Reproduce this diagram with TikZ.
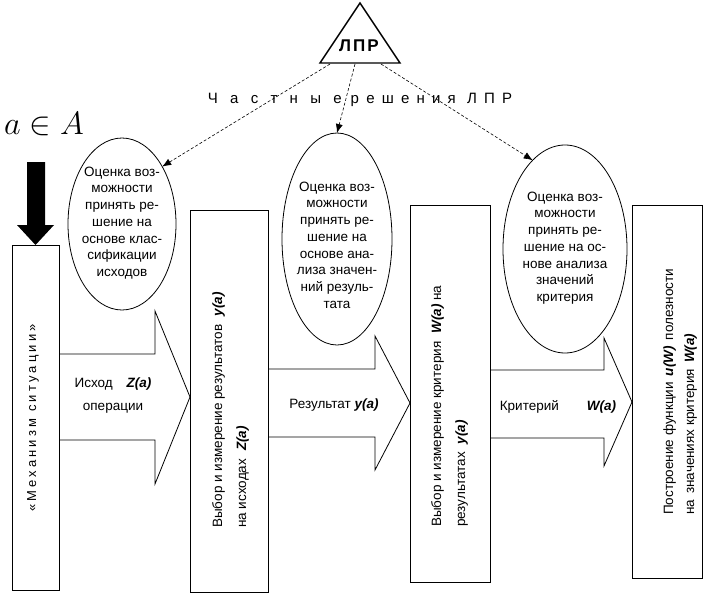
\documentclass[tikz,border=0pt]{standalone}
\usepackage{fontspec}
\setmainfont{Liberation Sans}
\usetikzlibrary{shapes.geometric,arrows.meta}

\tikzset{
  box/.style={draw, line width=0.8pt, inner sep=0pt, outer sep=0pt},
  oval/.style={draw, ellipse, line width=0.8pt, inner sep=0pt, outer sep=0pt},
  ovaltext/.style={align=center, inner sep=0pt, font=\fontsize{13.5}{16.7}\selectfont},
  boxtext/.style={rotate=90, align=left, anchor=west, inner sep=0pt, font=\fontsize{13.5}{24}\selectfont},
  flowlabel/.style={align=center, inner sep=0pt, font=\fontsize{13.5}{23}\selectfont},
  blockarrow/.style={draw, line width=0.8pt, line join=miter},
  decision/.style={draw, line width=0.6pt, dash pattern=on 3pt off 2pt,
                   -{Latex[length=9pt,width=7pt]}},
}
\newcommand{\bi}[1]{\textbf{\textit{#1}}}

\begin{document}
\begin{tikzpicture}[x=1pt,y=-1pt]
\useasboundingbox (0,0) rectangle (703,594);

% decision maker
\draw[line width=1.4pt, line join=miter] (360,3) -- (400,63) -- (320,63) -- cycle;
\node[inner sep=0pt, font=\fontsize{17}{17}\selectfont\bfseries\addfontfeature{LetterSpace=12}] (lpr) at (359,46) {ЛПР};
\coordinate (lprL) at (330,64);
\coordinate (lprM) at (355,64);
\coordinate (lprR) at (381,64);
\node[inner sep=0pt, font=\fontsize{15}{15}\selectfont] (part) at (360,100)
  {{\addfontfeature{LetterSpace=82}Частные}\hspace{9pt}{\addfontfeature{LetterSpace=48}решения ЛПР}};

% input alternative
\node[inner sep=0pt, scale=1.3, font=\fontsize{24.88}{26}\selectfont] (alt) at (44,124) {$a\in A$};

% stages
\node[box, minimum width=47pt, minimum height=345pt, anchor=north west] (r1) at (12,245) {};
\node[box, minimum width=78pt, minimum height=382pt, anchor=north west] (r2) at (190,210) {};
\node[box, minimum width=80pt, minimum height=377pt, anchor=north west] (r3) at (410,205) {};
\node[box, minimum width=70pt, minimum height=373pt, anchor=north west] (r4) at (632,205) {};

\node[rotate=90, inner sep=0pt, font=\fontsize{13}{13}\selectfont\addfontfeature{LetterSpace=24}] (r1t) at (33,418) {«Механизм ситуации»};
\node[boxtext] (r2t) at (230.5,528) {Выбор и измерение результатов\hspace{8pt}\bi{y(a)}\\на исходах\hspace{8pt}\bi{Z(a)}};
\node[boxtext] (r3t) at (449.5,527) {Выбор и измерение критерия\hspace{8pt}\bi{W(a)} на\\результатах\hspace{8pt}\bi{y(a)}};
\node[boxtext, font=\fontsize{13.5}{21}\selectfont] (r4t) at (680,515) {Построение функции\hspace{6pt}\bi{u(W)}\hspace{6pt}полезности\\на\hspace{6pt}значениях критерия\hspace{6pt}\bi{W(a)}};

% thick input arrow
\fill (27,162) -- (45,162) -- (45,225) -- (54,225) -- (r1.north) -- (17,225) -- (27,225) -- cycle;

% evaluation ovals
\node[oval, minimum width=108pt, minimum height=172pt] (e1) at (122,224) {};
\node[oval, minimum width=110pt, minimum height=212pt] (e2) at (337,239) {};
\node[oval, minimum width=124pt, minimum height=208pt] (e3) at (565,249) {};
\node[ovaltext] (e1t) at (122,223) {Оценка воз-\\можности\\принять ре-\\шение на\\основе клас-\\сификации\\исходов};
\node[ovaltext] (e2t) at (337,245) {Оценка воз-\\можности\\принять ре-\\шение на\\основе ана-\\лиза значен-\\ний резуль-\\тата};
\node[ovaltext] (e3t) at (565,248) {Оценка воз-\\можности\\принять ре-\\шение на ос-\\нове анализа\\значений\\критерия};

% partial decisions
\draw[decision] (lprL) -- (e1.55);
\draw[decision] (lprM) -- (e2.north);
\draw[decision] (lprR) -- (e3.110);

% flows between stages
\draw[blockarrow] (r1.east |- 0,354) -- (155,354) -- (155,311) -- (r2.west |- 0,397)
  -- (155,484) -- (155,440) -- (r1.east |- 0,440);
\draw[blockarrow] (r2.east |- 0,369) -- (375,369) -- (375,336) -- (r3.west |- 0,403)
  -- (375,470) -- (375,437) -- (r2.east |- 0,437);
\draw[blockarrow] (r3.east |- 0,370) -- (604,370) -- (604,338) -- (r4.west |- 0,402)
  -- (604,466) -- (604,438) -- (r3.east |- 0,438);

\node[flowlabel] (l1) at (113,396) {Исход\hspace{14pt}\bi{Z(a)}\\операции};
\node[flowlabel] (l2) at (334,405) {Результат \bi{y(a)}};
\node[flowlabel] (l3) at (558,407) {Критерий\hspace{28pt}\bi{W(a)}};
\end{tikzpicture}
\end{document}
